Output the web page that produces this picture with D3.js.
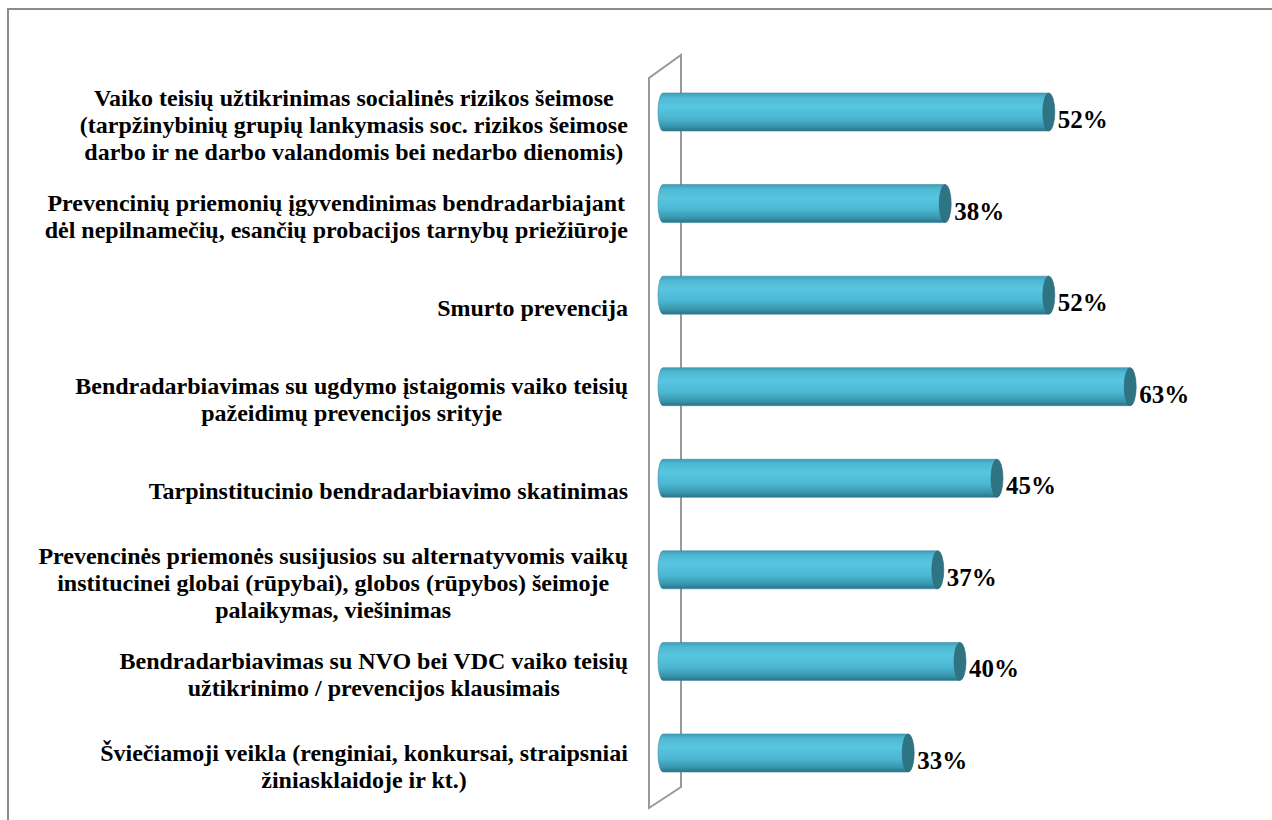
<!DOCTYPE html>
<html>
<head>
<meta charset="utf-8">
<script src="https://cdn.jsdelivr.net/npm/d3@7"></script>
<style>
  body { margin: 0; background: #fff; }
  text { font-family: "Times New Roman", "Liberation Serif", serif; font-weight: bold; fill: #000; }
</style>
</head>
<body>
<div id="container"></div>
<script>
const categories = [
  ["Vaiko teisių užtikrinimas socialinės rizikos šeimose", "(tarpžinybinių grupių lankymasis soc. rizikos šeimose", "darbo ir ne darbo valandomis bei nedarbo dienomis)"],
  ["Prevencinių priemonių įgyvendinimas bendradarbiajant", "dėl nepilnamečių, esančių probacijos tarnybų priežiūroje"],
  ["Smurto prevencija"],
  ["Bendradarbiavimas su ugdymo įstaigomis vaiko teisių", "pažeidimų prevencijos srityje"],
  ["Tarpinstitucinio bendradarbiavimo skatinimas"],
  ["Prevencinės priemonės susijusios su alternatyvomis vaikų", "institucinei globai (rūpybai), globos (rūpybos) šeimoje", "palaikymas, viešinimas"],
  ["Bendradarbiavimas su NVO bei VDC vaiko teisių", "užtikrinimo / prevencijos klausimais"],
  ["Šviečiamoji veikla (renginiai, konkursai, straipsniai", "žiniasklaidoje ir kt.)"]
];
const values = [0.52, 0.38, 0.52, 0.63, 0.45, 0.37, 0.40, 0.33];

const width = 1272, height = 820;
const svg = d3.select("#container").append("svg").attr("width", width).attr("height", height);

// outer frame
svg.append("rect")
  .attr("x", 8).attr("y", 9).attr("width", 1280).attr("height", 830)
  .attr("fill", "none").attr("stroke", "#8c8c8c").attr("stroke-width", 2);

const defs = svg.append("defs");
const grad = defs.append("linearGradient").attr("id", "cyl").attr("x1", 0).attr("y1", 0).attr("x2", 0).attr("y2", 1);
[[0, "#3d9fb8"], [0.12, "#4fb9d3"], [0.35, "#58c6e1"], [0.65, "#4cb7d2"], [0.88, "#3895ad"], [1, "#2a7184"]]
  .forEach(([o, c]) => grad.append("stop").attr("offset", o).attr("stop-color", c));

const x = d3.scaleLinear().domain([0, 1]).range([670, 1410]);
const y = d3.scalePoint().domain(d3.range(values.length)).range([112, 753]);
const barH = 38, capRx = 6, x0 = 658, endRx = 5;

// back wall
svg.append("path")
  .attr("d", "M649,808 L649,78 L681,55 L681,787 Z")
  .attr("fill", "#fff").attr("stroke", "#999").attr("stroke-width", 2);

const bars = svg.append("g").selectAll("g").data(values).join("g");

bars.append("path")
  .attr("fill", "url(#cyl)")
  .attr("stroke", "#3a8aa0").attr("stroke-width", 0.6)
  .attr("d", (d, i) => {
    const cy = y(i), t = cy - barH / 2, b = cy + barH / 2, xe = x(d) - capRx;
    return `M${x0 + endRx},${t} L${xe},${t} L${xe},${b} L${x0 + endRx},${b} A${endRx},${barH / 2} 0 0 1 ${x0 + endRx},${t} Z`;
  });

bars.append("ellipse")
  .attr("cx", d => x(d) - capRx)
  .attr("cy", (d, i) => y(i))
  .attr("rx", capRx).attr("ry", barH / 2)
  .attr("fill", "#2f7483").attr("stroke", "#2a6676").attr("stroke-width", 0.6);

bars.append("text")
  .attr("x", d => x(d) + 3)
  .attr("y", (d, i) => y(i) + 16)
  .attr("font-size", 25)
  .text(d => Math.round(d * 100) + "%");

// category labels, centred lines, block right-aligned to the wall
const labelRight = 628, lineH = 27, fs = 24;
const lab = svg.append("g").selectAll("text").data(categories).join("text")
  .attr("font-size", fs)
  .attr("text-anchor", "middle");

lab.each(function (lines, i) {
  const t = d3.select(this);
  const mid = y(i) + 21;
  lines.forEach((l, j) => {
    t.append("tspan").attr("x", 0).attr("y", mid + (j - (lines.length - 1) / 2) * lineH).text(l);
  });
  const w = this.getBBox().width;
  t.selectAll("tspan").attr("x", labelRight - w / 2);
});
</script>
</body>
</html>
